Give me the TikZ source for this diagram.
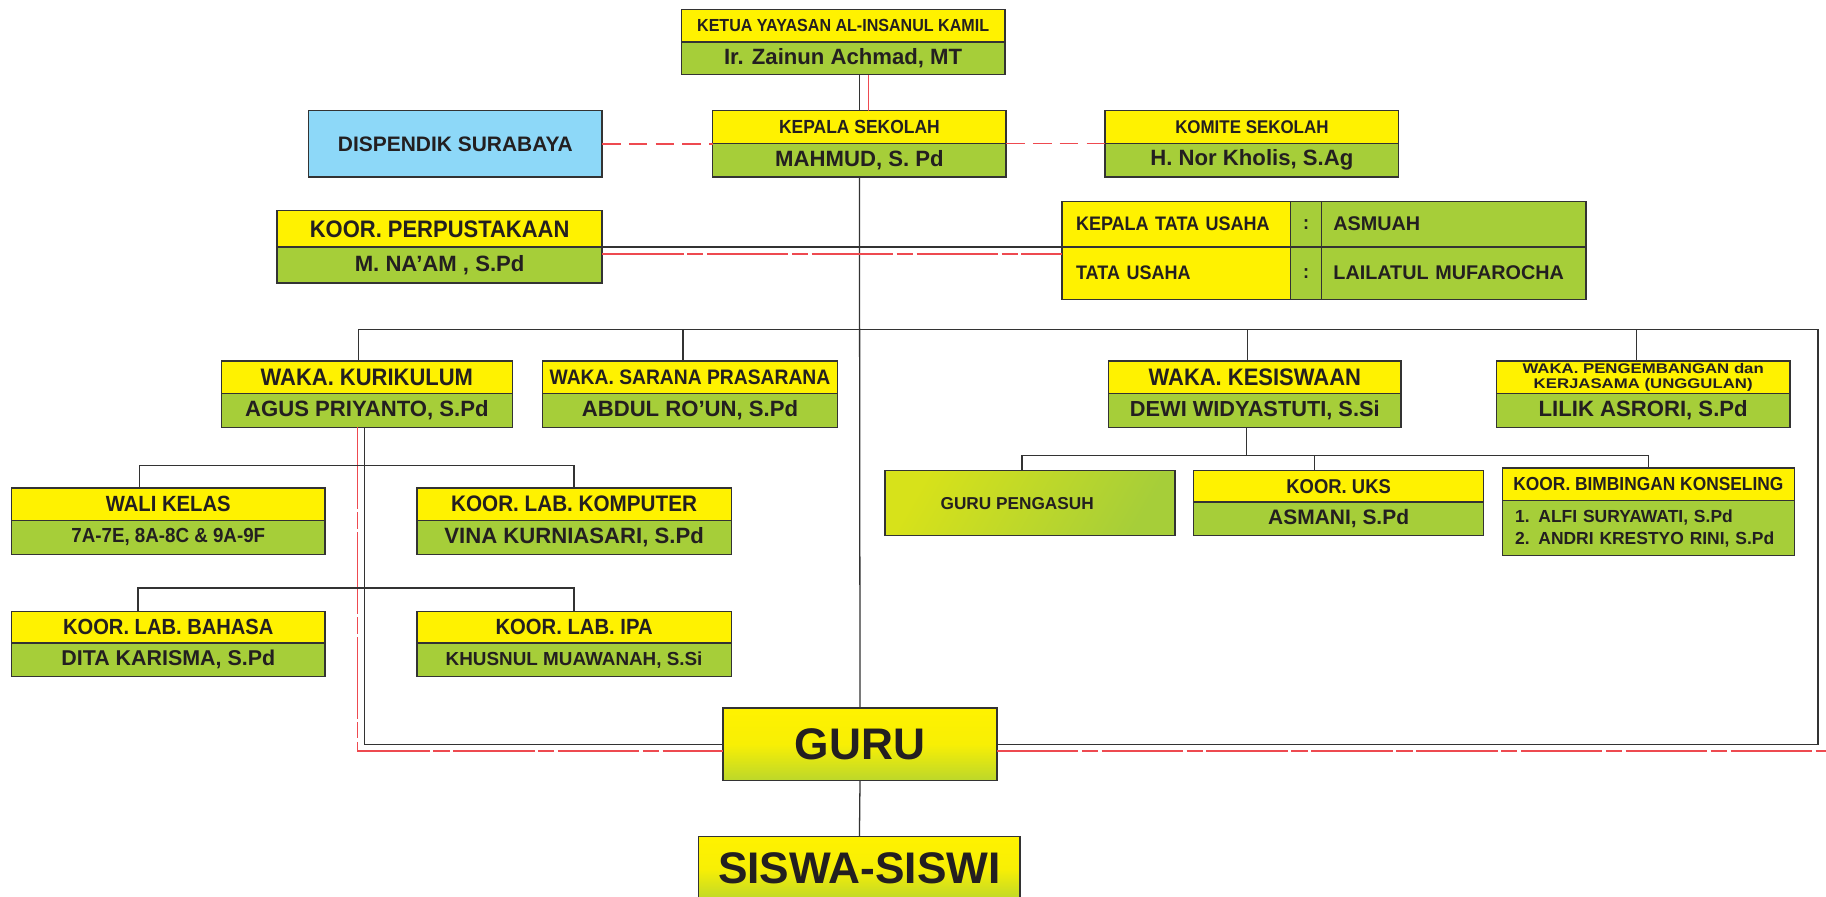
\documentclass[tikz,border=0pt]{standalone}
\usepackage{fontspec}
\setmainfont{Liberation Sans}
\newfontfamily\lebar[FakeStretch=1.2]{Liberation Sans}
\newfontfamily\tebal[FakeStretch=0.92]{Liberation Sans}
\usetikzlibrary{positioning}

\definecolor{kuning}{HTML}{FFF200}
\definecolor{hijau}{HTML}{A6CE39}
\definecolor{biru}{HTML}{8DD8F8}
\definecolor{garis}{HTML}{333333}
\definecolor{merahgaris}{HTML}{EE4A50}
\definecolor{teks}{HTML}{231F20}

\newcommand{\huruf}[1]{\fontsize{#1}{#1}\selectfont}
\newcommand{\hj}[1]{\tebal\bfseries\fontsize{#1}{#1}\selectfont}

\tikzset{
  judul/.style={draw=garis, fill=kuning, line width=1.2pt, inner sep=0pt, outer sep=0pt, text=teks, font=\hj{16.8}},
  nama/.style={draw=garis, fill=hijau, line width=1.2pt, inner sep=0pt, outer sep=0pt, text=teks, font=\bfseries\huruf{19}},
  gradasi/.style={draw=garis, line width=1.2pt, inner sep=0pt, outer sep=0pt, text=teks, top color=kuning, bottom color=hijau!75!kuning, middle color=kuning!92!hijau, font=\bfseries\huruf{38}},
  hubung/.style={draw=garis, line width=1.1pt},
  garismerah/.style={draw=merahgaris, line width=1.2pt, dash pattern=on 70pt off 3pt on 14pt off 3pt},
  putus/.style={draw=merahgaris, line width=1.2pt, dash pattern=on 16pt off 7pt}
}

\begin{document}
\begin{tikzpicture}[x=1pt, y=-1pt]

% Fix the size of the picture
\clip (0,0) rectangle (1568,770);

% Draw ketua yayasan and kepala sekolah
\node[judul, minimum width=278pt, minimum height=28pt, font=\hj{15}] (ketT) at (724,22) {KETUA YAYASAN AL-INSANUL KAMIL};
\node[nama, minimum width=278pt, minimum height=28pt, below=0pt of ketT] (ketN) {Ir. Zainun Achmad, MT};
\node[judul, minimum width=252pt, minimum height=28pt, font=\hj{16.3}] (kepT) at (738,109) {KEPALA SEKOLAH};
\node[nama, minimum width=252pt, minimum height=29pt, below=0pt of kepT] (kepN) {MAHMUD, S. Pd};

% Draw dispendik and komite
\node[draw=garis, fill=biru, line width=1.2pt, outer sep=0pt, text=teks, font=\bfseries\huruf{18}, minimum width=252pt, minimum height=57pt] (disp) at (391,123.5) {DISPENDIK SURABAYA};
\node[judul, minimum width=252pt, minimum height=28pt, font=\hj{15.8}] (komT) at (1075,109) {KOMITE SEKOLAH};
\node[nama, minimum width=252pt, minimum height=29pt, below=0pt of komT] (komN) {H. Nor Kholis, S.Ag};

% Draw perpustakaan
\node[judul, minimum width=279pt, minimum height=31pt, font=\hj{20.5}] (perT) at (377.5,196.5) {KOOR. PERPUSTAKAAN};
\node[nama, minimum width=279pt, minimum height=31pt, below=0pt of perT] (perN) {M. NA’AM , S.Pd};

% Draw tata usaha table
\node[judul, minimum height=39pt, text width=172pt, inner xsep=12pt, align=left] (tuK1) at (1010,192.5) {KEPALA TATA USAHA};
\node[nama, minimum height=39pt, minimum width=27pt, font=\hj{16.8}, right=0pt of tuK1] (tuT1) {:};
\node[nama, minimum height=39pt, text width=207pt, inner xsep=10pt, align=left, font=\bfseries\huruf{17}, right=0pt of tuT1] (tuN1) {ASMUAH};
\node[judul, minimum height=45pt, text width=172pt, inner xsep=12pt, align=left, below=0pt of tuK1] (tuK2) {TATA USAHA};
\node[nama, minimum height=45pt, minimum width=27pt, font=\hj{16.8}, right=0pt of tuK2] (tuT2) {:};
\node[nama, minimum height=45pt, text width=207pt, inner xsep=10pt, align=left, font=\bfseries\huruf{17}, right=0pt of tuT2] (tuN2) {LAILATUL MUFAROCHA};

% Draw waka row
\node[judul, minimum width=250pt, minimum height=28pt, font=\hj{20.5}] (kurT) at (315,324) {WAKA. KURIKULUM};
\node[nama, minimum width=250pt, minimum height=29pt, below=0pt of kurT] (kurN) {AGUS PRIYANTO, S.Pd};
\node[judul, minimum width=253pt, minimum height=28pt, font=\hj{18}] (sarT) at (592.5,324) {WAKA. SARANA PRASARANA};
\node[nama, minimum width=253pt, minimum height=29pt, below=0pt of sarT] (sarN) {ABDUL RO’UN, S.Pd};
\node[judul, minimum width=251pt, minimum height=28pt, font=\hj{20.5}] (kesT) at (1077.5,324) {WAKA. KESISWAAN};
\node[nama, minimum width=251pt, minimum height=29pt, font=\bfseries\huruf{18.7}, below=0pt of kesT] (kesN) {DEWI WIDYASTUTI, S.Si};
\node[judul, minimum width=252pt, minimum height=28pt, align=center, font=\lebar\bfseries\fontsize{12}{13}\selectfont] (pngT) at (1411,324) {WAKA. PENGEMBANGAN dan\\KERJASAMA (UNGGULAN)};
\node[nama, minimum width=252pt, minimum height=29pt, below=0pt of pngT] (pngN) {LILIK ASRORI, S.Pd};

% Draw under kesiswaan
\node[draw=garis, line width=1.2pt, outer sep=0pt, text=teks, left color=kuning!55!hijau, right color=hijau, shading angle=60, font=\bfseries\huruf{14.8}, minimum width=249pt, minimum height=56pt] (pengasuh) at (884.5,432) {GURU PENGASUH\hspace*{22pt}};
\node[judul, minimum width=249pt, minimum height=27pt, font=\hj{17.2}] (uksT) at (1149.5,417.5) {KOOR. UKS};
\node[nama, minimum width=249pt, minimum height=29pt, font=\bfseries\huruf{18}, below=0pt of uksT] (uksN) {ASMANI, S.Pd};
\node[judul, minimum width=251pt, minimum height=28pt, font=\hj{16.2}] (bimT) at (1415.5,416) {KOOR. BIMBINGAN KONSELING};
\node[nama, minimum height=47pt, text width=229pt, inner xsep=11pt, align=left, font=\bfseries\fontsize{15}{19}\selectfont, below=0pt of bimT] (bimN) {1. ALFI SURYAWATI, S.Pd\\2. ANDRI KRESTYO RINI, S.Pd};

% Draw under kurikulum
\node[judul, minimum width=269pt, minimum height=28pt, font=\hj{18.9}] (waliT) at (144.5,433) {WALI KELAS};
\node[nama, minimum width=269pt, minimum height=29pt, font=\hj{17.5}, below=0pt of waliT] (waliN) {7A-7E, 8A-8C \& 9A-9F};
\node[judul, minimum width=270pt, minimum height=28pt, font=\hj{19.3}] (kompT) at (493,433) {KOOR. LAB. KOMPUTER};
\node[nama, minimum width=270pt, minimum height=29pt, below=0pt of kompT] (kompN) {VINA KURNIASARI, S.Pd};
\node[judul, minimum width=269pt, minimum height=27pt, font=\hj{18.8}] (bhsT) at (144.5,538.5) {KOOR. LAB. BAHASA};
\node[nama, minimum width=269pt, minimum height=29pt, font=\bfseries\huruf{18.4}, below=0pt of bhsT] (bhsN) {DITA KARISMA, S.Pd};
\node[judul, minimum width=270pt, minimum height=27pt, font=\hj{18.9}] (ipaT) at (493,538.5) {KOOR. LAB. IPA};
\node[nama, minimum width=270pt, minimum height=29pt, font=\bfseries\huruf{16.2}, below=0pt of ipaT] (ipaN) {KHUSNUL MUAWANAH, S.Si};

% Draw guru and siswa
\node[gradasi, minimum width=235pt, minimum height=62pt] (guru) at (738.5,639) {GURU};
\node[gradasi, minimum width=276pt, minimum height=55pt] (siswa) at (738,746) {SISWA-SISWI};

% Draw line of command
\draw[hubung] (kepT.north |- ketN.south) -- (kepT.north);
\draw[garismerah] ([xshift=8pt]kepT.north) -- ++(0,-31);
\draw[hubung] (kepN.south) -- (guru.north);
\draw[hubung] (guru.south) -- (siswa.north);

% Draw lines of coordination
\draw[putus] (disp.east) -- (disp.east -| kepT.south west);
\draw[putus] (kepT.south east) -- (komT.south west);
\draw[hubung] (perT.south east) -- (tuK1.south west);
\draw[garismerah] ([yshift=-6pt]perT.south east) -- ([yshift=-6pt]tuK1.south west);

% Draw waka bus
\coordinate (busKanan) at (1561,283);
\draw[hubung] ([xshift=-7pt]kurT.north) |- (busKanan) |- (guru.east);
\draw[hubung] ([xshift=-6pt]sarT.north) -- ++(0,-27);
\draw[hubung] ([xshift=-6pt]kesT.north) -- ++(0,-27);
\draw[hubung] ([xshift=-6pt]pngT.north) -- ++(0,-27);

% Draw kesiswaan bus
\coordinate (busKes) at (1415.5,391);
\draw[hubung] ([xshift=-7pt]kesN.south) -- ++(0,24);
\draw[hubung] ([xshift=-7pt]pengasuh.north) |- (busKes) -- (bimT.north);
\draw[hubung] ([xshift=-21pt]uksT.north) -- ++(0,-13);

% Draw kurikulum lines
\draw[hubung] ([xshift=-2pt]kurN.south) |- (guru.west);
\draw[garismerah] ([xshift=-8pt]kurN.south) |- ([yshift=-6pt]guru.west);
\coordinate (ujungMerah) at (1568,645);
\draw[garismerah] ([yshift=-6pt]guru.east) -- (ujungMerah);
\coordinate (busWali) at (493,400);
\draw[hubung] ([xshift=-25pt]waliT.north) |- (busWali) -- (kompT.north);
\coordinate (busLab) at (493,505);
\draw[hubung] ([xshift=-26pt]bhsT.north) |- (busLab) -- (ipaT.north);

\end{tikzpicture}
\end{document}
